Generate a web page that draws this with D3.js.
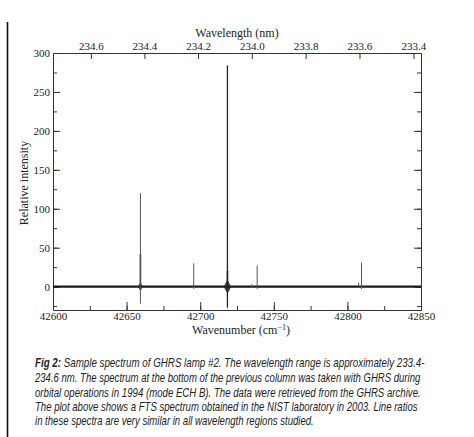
<!DOCTYPE html>
<html>
<head>
<meta charset="utf-8">
<script src="https://cdn.jsdelivr.net/npm/d3@7"></script>
<style>
  body { margin: 0; background: #fff; }
  svg { display: block; }
</style>
</head>
<body>
<svg width="474" height="437"></svg>
<script>
// spectrum values
const wavenumberDomain = [42600, 42850];
const intensityDomain = [-30, 300];
const wavenumberTicks = [42600, 42650, 42700, 42750, 42800, 42850];
const intensityTicks = [0, 50, 100, 150, 200, 250, 300];
const wavelengthTicks = [234.6, 234.4, 234.2, 234.0, 233.8, 233.6, 233.4];

// emission lines: centre (cm-1), peak, lowest dip, thick shoulder height
const lineCenters = [42659.4, 42695.6, 42718.5, 42738.7, 42809.6, 42735.0, 42807.6];
const linePeaks = [120, 30, 284, 27, 31, 3, 5];
const lineDips = [-22, -3, -27, -3, -3, -1, -1];
const lineShoulders = [42, 0, 20, 0, 0, 0, 0];

// ringing blobs at the base of the strong lines
const ringCenters = [42659.4, 42718.5];
const ringHalfWidth = [1.6, 2.6];
const ringAmp = [6, 9];

const caption = [
  ["Fig 2:", " Sample spectrum of GHRS lamp #2. The wavelength range is approximately 233.4-"],
  ["", "234.6 nm. The spectrum at the bottom of the previous column was taken with GHRS during"],
  ["", "orbital operations in 1994 (mode ECH B). The data were retrieved from the GHRS archive."],
  ["", "The plot above shows a FTS spectrum obtained in the NIST laboratory in 2003. Line ratios"],
  ["", "in these spectra are very similar in all wavelength regions studied."]
];
const captionWidths = [390, 386, 386, 383, 279];

const svg = d3.select("svg");
const margin = {left: 53, right: 421, top: 53, bottom: 310};

const x = d3.scaleLinear().domain(wavenumberDomain).range([margin.left, margin.right]);
const y = d3.scaleLinear().domain(intensityDomain).range([margin.bottom, margin.top]);

svg.append("rect").attr("width", 474).attr("height", 437).attr("fill", "#fff");

// page border line on the left
svg.append("line")
  .attr("x1", 7.5).attr("x2", 7.5).attr("y1", 22).attr("y2", 437)
  .attr("stroke", "#111").attr("stroke-width", 1.6);

const serif = "'Liberation Serif', 'Times New Roman', serif";

function styleAxis(g) {
  g.selectAll("path,line").attr("stroke", "#333").attr("stroke-width", 1);
  g.selectAll("text").attr("font-family", serif).attr("font-size", 11).attr("fill", "#222");
}

const minorX = d3.range(42600, 42851, 25);
const minorY = d3.range(-25, 300, 25);

// bottom
svg.append("g").attr("transform", `translate(0,${margin.bottom})`)
  .call(d3.axisBottom(x).tickValues(minorX).tickSize(-4).tickSizeOuter(0).tickFormat(""))
  .call(styleAxis);
svg.append("g").attr("transform", `translate(0,${margin.bottom})`)
  .call(d3.axisBottom(x).tickValues(wavenumberTicks).tickSize(-8).tickSizeOuter(0).tickPadding(2).tickFormat(d3.format("d")))
  .call(g => g.select(".domain").remove())
  .call(styleAxis);

// top, wavelength in nm
svg.append("g").attr("transform", `translate(0,${margin.top})`)
  .call(d3.axisTop(x).tickValues(wavelengthTicks.map(l => 1e7 / l)).tickSize(-6).tickSizeOuter(0).tickPadding(3)
    .tickFormat(d => (1e7 / d).toFixed(1)))
  .call(styleAxis);

// left
svg.append("g").attr("transform", `translate(${margin.left},0)`)
  .call(d3.axisLeft(y).tickValues(minorY).tickSize(-4).tickSizeOuter(0).tickFormat(""))
  .call(styleAxis);
svg.append("g").attr("transform", `translate(${margin.left},0)`)
  .call(d3.axisLeft(y).tickValues(intensityTicks).tickSize(-7).tickSizeOuter(0).tickPadding(3))
  .call(g => g.select(".domain").remove())
  .call(styleAxis);

// right
svg.append("g").attr("transform", `translate(${margin.right},0)`)
  .call(d3.axisRight(y).tickValues(minorY).tickSize(-4).tickSizeOuter(0).tickFormat(""))
  .call(styleAxis);
svg.append("g").attr("transform", `translate(${margin.right},0)`)
  .call(d3.axisRight(y).tickValues(intensityTicks).tickSize(-7).tickSizeOuter(0).tickFormat(""))
  .call(g => g.select(".domain").remove())
  .call(styleAxis);

// axis titles
svg.append("text").attr("x", 237).attr("y", 37).attr("text-anchor", "middle")
  .attr("font-family", serif).attr("font-size", 12).attr("fill", "#222")
  .text("Wavelength (nm)");

const xt = svg.append("text").attr("x", 241).attr("y", 334).attr("text-anchor", "middle")
  .attr("font-family", serif).attr("font-size", 12).attr("fill", "#222");
xt.append("tspan").text("Wavenumber (cm");
xt.append("tspan").attr("font-size", 8).attr("dy", -4).text("−1");
xt.append("tspan").attr("dy", 4).text(")");

svg.append("text").attr("transform", "translate(28,183) rotate(-90)").attr("text-anchor", "middle")
  .attr("font-family", serif).attr("font-size", 12).attr("fill", "#222")
  .text("Relative intensity");

// spectrum
const plot = svg.append("g");
const line = d3.line().x(d => x(d[0])).y(d => y(d[1]));

plot.append("path")
  .attr("d", line(wavenumberDomain.map(w => [w, 0])))
  .attr("stroke", "#1a1a1a").attr("stroke-width", 2.2).attr("fill", "none");

plot.selectAll(".ring").data(ringCenters).join("path")
  .attr("d", (c, i) => line([[c - ringHalfWidth[i], 0], [c, ringAmp[i]], [c + ringHalfWidth[i], 0], [c, -ringAmp[i]], [c - ringHalfWidth[i], 0]]))
  .attr("fill", "#222").attr("fill-opacity", 0.85).attr("stroke", "none");

plot.selectAll(".shoulder").data(lineCenters).join("path")
  .attr("d", (c, i) => line([[c, 0], [c, lineShoulders[i]]]))
  .attr("stroke", "#333").attr("stroke-width", 1.6);

plot.selectAll(".peak").data(lineCenters).join("path")
  .attr("d", (c, i) => line([[c, lineDips[i]], [c, linePeaks[i]]]))
  .attr("stroke", (c, i) => linePeaks[i] > 200 ? "#222" : "#555")
  .attr("stroke-width", (c, i) => linePeaks[i] > 200 ? 1.3 : 1);

// caption
const sans = "'Liberation Sans Narrow', 'Arial Narrow', 'Liberation Sans', Arial, sans-serif";
const lineYs = [367, 382, 397, 411, 425];
caption.forEach((parts, i) => {
  const t = svg.append("text").attr("x", 0).attr("y", 0)
    .attr("font-family", sans).attr("font-size", 12.5).attr("font-style", "italic").attr("fill", "#222");
  if (parts[0]) t.append("tspan").attr("font-weight", "bold").text(parts[0]);
  t.append("tspan").text(parts[1]);
  const w = t.node().getComputedTextLength();
  t.attr("transform", `translate(35,${lineYs[i]}) scale(${captionWidths[i] / w},1)`);
});
</script>
</body>
</html>
